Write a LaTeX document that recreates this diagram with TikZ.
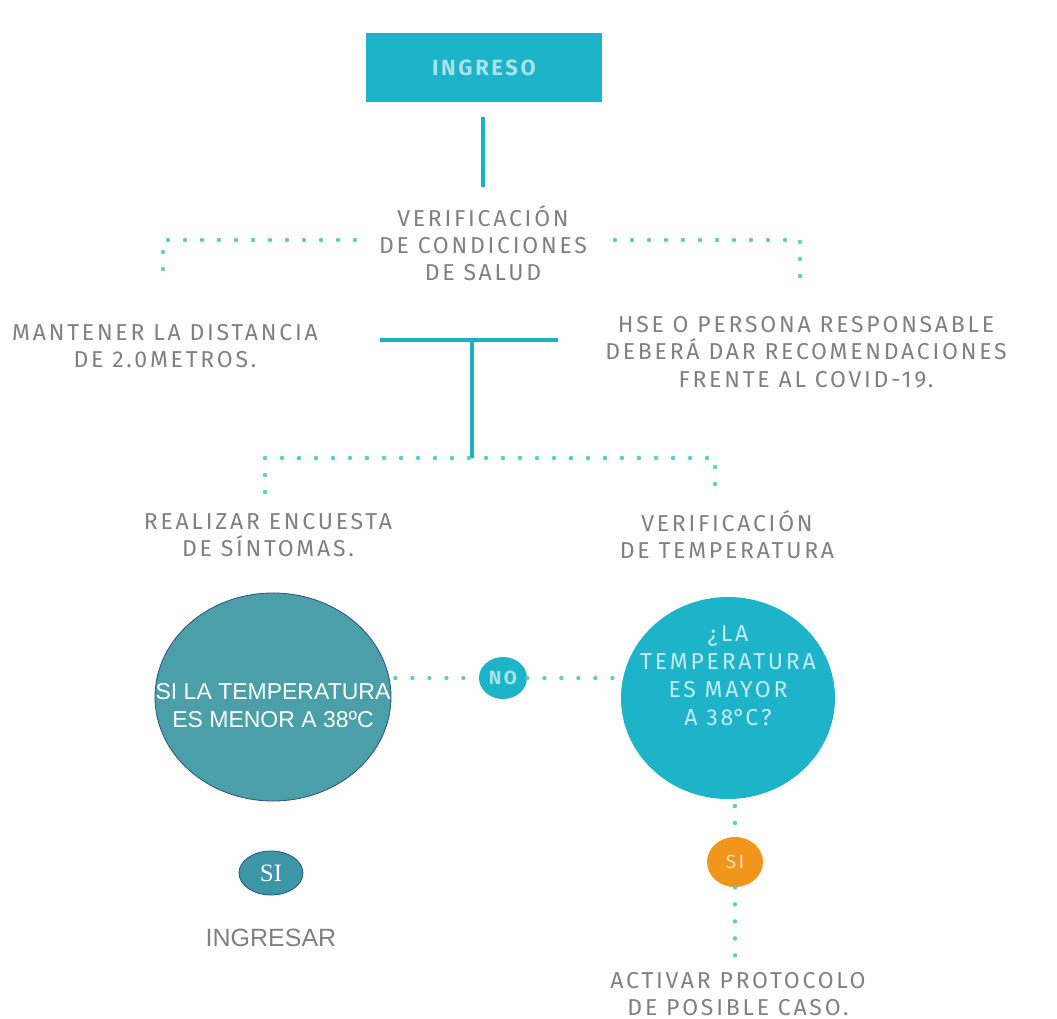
\documentclass[tikz,border=0pt]{standalone}
\usepackage{fontspec}
\setmainfont{Fira Sans}[LetterSpace=12]
\newfontfamily\arialfont{Liberation Sans}
\newfontfamily\timesfont{Liberation Serif}
\usetikzlibrary{positioning, shapes.geometric}
\definecolor{boxcyan}{HTML}{1DB4C9}
\definecolor{lncyan}{HTML}{1BB0C6}
\definecolor{dotcyan}{HTML}{5ECBD3}
\definecolor{txtgray}{HTML}{808080}
\definecolor{ingtxt}{HTML}{A9E3EA}
\definecolor{ellteal}{HTML}{4A9FA8}
\definecolor{siteal}{HTML}{3D96A6}
\definecolor{ellborder}{HTML}{2E4E7E}
\definecolor{siorange}{HTML}{F2961B}

\begin{document}
\begin{tikzpicture}[x=0.5pt, y=-0.5pt,
  gtxt/.style={text=txtgray, align=center, inner sep=0pt, font=\fontsize{11.5}{13.6}\selectfont},
  solidln/.style={draw=lncyan, line width=2pt},
  dotln/.style={draw=dotcyan, line width=2.2pt, line cap=round, dash pattern=on 0pt off 8.5pt},
  wtxt/.style={text=ingtxt, align=center, inner sep=0pt, font=\fontsize{11.5}{14}\selectfont},
  bubble/.style={ellipse, inner sep=0pt}
]
  \useasboundingbox (0,0) rectangle (1057,1019);

  % top box
  \node[fill=boxcyan, minimum width=118pt, minimum height=34.5pt, wtxt, font=\bfseries\fontsize{11}{14}\selectfont] (ingreso) at (484, 67.5) {INGRESO};
  \node[gtxt] (verif) at (483, 243) {VERIFICACIÓN\\DE CONDICIONES\\DE SALUD};
  \coordinate (ingbot) at (483, 117);
  \coordinate (verittop) at (483, 187);
  \draw[solidln] (ingbot) -- (verittop);

  % first split
  \node[gtxt] (mantener) at (165, 346) {MANTENER LA DISTANCIA\\DE 2.0METROS.};
  \node[gtxt] (hse) at (806, 352) {HSE O PERSONA RESPONSABLE\\DEBERÁ DAR RECOMENDACIONES\\FRENTE AL COVID-19.};
  \coordinate (dl1) at (355, 240);
  \coordinate (dl2) at (163, 240);
  \coordinate (dl3) at (163, 282);
  \coordinate (dr1) at (615, 240);
  \coordinate (dr2) at (800, 240);
  \coordinate (dr3) at (800, 282);
  \draw[dotln] (dl1) -- (dl2) -- (dl3);
  \draw[dotln] (dr1) -- (dr2) -- (dr3);

  % T bar
  \coordinate (tl) at (380, 340);
  \coordinate (tr) at (558, 340);
  \coordinate (tm) at (472, 340);
  \coordinate (tb) at (472, 458);
  \draw[solidln] (tl) -- (tr);
  \draw[solidln] (tm) -- (tb);

  % second split
  \node[gtxt] (encuesta) at (268, 535) {REALIZAR ENCUESTA\\DE SÍNTOMAS.};
  \node[gtxt] (temp) at (727, 535) {VERIFICACIÓN\\DE TEMPERATURA};
  \coordinate (sl) at (265, 458);
  \coordinate (sr) at (715, 458);
  \coordinate (slb) at (265, 492);
  \coordinate (srb) at (715, 492);
  \draw[dotln] (slb) -- (sl) -- (sr) -- (srb);

  % decision
  \node[bubble, fill=ellteal, draw=ellborder, line width=0.4pt, minimum width=118pt, minimum height=104pt] (menor) at (273, 697) {};
  \node[text=white, align=center, inner sep=0pt, font=\arialfont\fontsize{11.5}{14}\selectfont] (menortxt) at ([yshift=-4.5pt]menor.center) {SI LA TEMPERATURA\\ES MENOR A 38ºC};
  \node[bubble, fill=boxcyan, minimum width=107pt, minimum height=101pt] (mayor) at (728, 698) {};
  \node[wtxt, text=ingtxt!70!white] (mayortxt) at ([yshift=11pt]mayor.center) {¿LA\\TEMPERATURA\\ES MAYOR\\A 38{\addfontfeature{LetterSpace=0}°}C?};
  \node[bubble, fill=boxcyan, minimum width=24pt, minimum height=21pt, wtxt, font=\bfseries\fontsize{9.5}{11}\selectfont] (no) at (503, 678) {NO};
  \draw[dotln] (menor.east |- no.west) ++(4,0) coordinate (nol) -- (no.west);
  \draw[dotln] (no.east) -- (mayor.west |- no.east);

  % outcomes
  \node[bubble, fill=siteal, draw=ellborder, line width=0.4pt, minimum width=32pt, minimum height=22pt,
        text=white, font=\timesfont\fontsize{12.5}{14}\selectfont] (sil) at (271, 873) {SI};
  \node[text=txtgray, inner sep=0pt, font=\arialfont\fontsize{12.5}{14}\selectfont] (ingresar) at (271, 938) {INGRESAR};
  \node[bubble, fill=siorange, minimum width=28pt, minimum height=25pt, wtxt, text=orange!25!white,
        font=\fontsize{9.5}{11}\selectfont] (sir) at (735, 862) {SI};
  \node[gtxt, anchor=north] (activar) at (738, 972) {ACTIVAR PROTOCOLO\\DE POSIBLE CASO.};
  \coordinate (mb) at (735, 806);
  \coordinate (ab) at (735, 960);
  \draw[dotln] (mb) -- (sir.north);
  \draw[dotln] (sir.south) -- (ab);
\end{tikzpicture}
\end{document}
